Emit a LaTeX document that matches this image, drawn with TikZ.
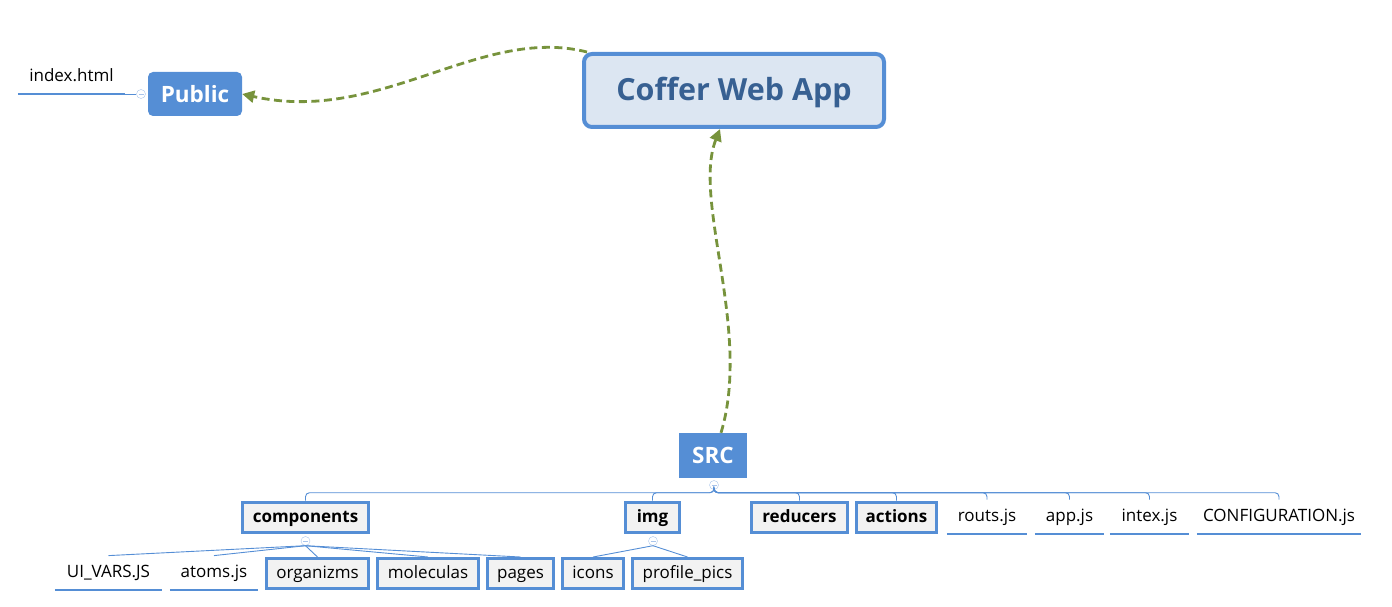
\documentclass[tikz,border=0pt]{standalone}
\usepackage{fontspec}
\setmainfont{Open Sans}
\usetikzlibrary{arrows.meta}
\begin{document}
\begin{tikzpicture}[x=1pt,y=-1pt,
  topic/.style={fill=cBlue,text=white,font=\fontsize{22.5}{26}\selectfont\bfseries,inner sep=0pt},
  sub/.style={draw=cBlue,line width=3pt,fill=cGrey,inner sep=0pt,minimum height=30pt,
    text height=12pt,text depth=2pt,font=\fontsize{17}{20}\selectfont\bfseries},
  subleaf/.style={sub,font=\fontsize{17}{20}\selectfont},
  leaf/.style={inner sep=0pt,minimum height=34pt,anchor=south,font=\fontsize{17}{20}\selectfont,
    text height=12pt,text depth=2pt,
    append after command={\pgfextra{\draw[cBlue,line width=2.5pt]
      (\tikzlastnode.south west) -- (\tikzlastnode.south east);}}},
  knob/.style={circle,draw=cKnob,fill=white,inner sep=0pt,minimum size=9pt,
    path picture={\draw[cKnob,line width=.7pt] ([xshift=-2.5pt]path picture bounding box.center)
      -- ([xshift=2.5pt]path picture bounding box.center);}},
  wire/.style={cBlue,line width=.9pt},
  flow/.style={cGreen,line width=2.8pt,dash pattern=on 8pt off 4.5pt,-{Triangle[length=12pt,width=12pt]}}]
 \definecolor{cBlue}{RGB}{85,142,213}
 \definecolor{cGreen}{RGB}{119,147,60}
 \definecolor{cGrey}{RGB}{242,242,242}
 \definecolor{cPale}{RGB}{220,230,242}
 \definecolor{cDark}{RGB}{55,96,146}
 \definecolor{cKnob}{RGB}{169,196,235}
 \useasboundingbox (0,0) rectangle (1392,607);
 % main topics
 \node[draw=cBlue,line width=4pt,fill=cPale,rounded corners=8pt,text=cDark,
   font=\fontsize{30.5}{36}\selectfont\bfseries,text height=23pt,text depth=3pt,
   minimum width=300pt,minimum height=73pt]
   (coffer) at (734,90.5) {Coffer Web App};
 \node[topic,rounded corners=5pt,minimum width=94pt,minimum height=44pt]
   (public) at (195,94) {Public};
 \node[topic,minimum width=68pt,minimum height=45pt] (src) at (713,455.5) {SRC};
 % public branch
 \node[knob] (pubK) at (141,94) {};
 \node[leaf,minimum width=107pt] (index) at (71.5,94) {index.html};
 \draw[wire] (index.south east) -- (pubK.west);
 % src branch
 \node[knob] (srcK) at (714,485) {};
 \foreach \name/\xp/\bw/\txt in {
   components/305.5/126/components, img/652.5/54/img,
   reducers/799.5/96/reducers, actions/896.5/80/actions
 } {
   \node[sub,minimum width=\bw pt] (\name) at (\xp,517) {\txt};
   \draw[wire,rounded corners=4pt] (srcK.south) -- ++(0,3) -| (\name.north);
 }
 \foreach \name/\xp/\bw/\txt in {
   routs/987/80/routs.js, app/1069.5/69/app.js,
   intex/1149.5/79/intex.js, config/1279/164/CONFIGURATION.js
 } {
   \node[leaf,minimum width=\bw pt] (\name) at (\xp,534) {\txt};
   \draw[wire,rounded corners=4pt] (srcK.south) -- ++(0,3) -| (\name.north);
 }
 % components branch
 \node[knob] (compK) at (305.5,541) {};
 \node[leaf,minimum width=107pt] (uivars) at (108.5,590) {UI\_VARS.JS};
 \node[leaf,minimum width=88pt] (atoms) at (214,590) {atoms.js};
 \foreach \name/\xp/\bw/\txt in {
   organizms/317.5/102/organizms, moleculas/428/101/moleculas,
   pages/520.5/66/pages
 } {
   \node[subleaf,minimum width=\bw pt] (\name) at (\xp,573.5) {\txt};
 }
 \foreach \name in {uivars,atoms,organizms,moleculas,pages}
   \draw[wire] (compK.south) -- (\name.north);
 % img branch
 \node[knob] (imgK) at (653,541) {};
 \node[subleaf,minimum width=61pt] (icons) at (593,573.5) {icons};
 \node[subleaf,minimum width=110pt] (pics) at (687.5,573.5) {profile\_pics};
 \foreach \name in {icons,pics}
   \draw[wire] (imgK.south) -- (\name.north);
 % relations
 \draw[flow] ([xshift=5pt]coffer.north west) .. controls (480,25) and (380,125) .. (public.east);
 \draw[flow] ([xshift=8pt]src.north) .. controls (752,330) and (692,200) .. ([xshift=-14pt]coffer.south);
\end{tikzpicture}
\end{document}
